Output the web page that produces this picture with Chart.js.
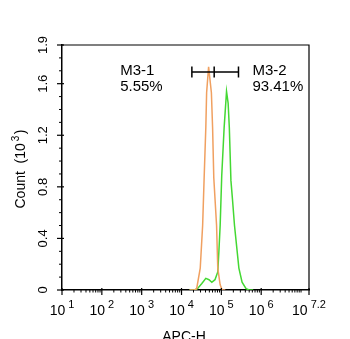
<!DOCTYPE html>
<html>
<head>
<meta charset="utf-8">
<script src="https://cdn.jsdelivr.net/npm/chart.js@4"></script>
<style>
  html, body { margin: 0; padding: 0; background: #fff; }
  #wrap { width: 350px; height: 339px; }
</style>
</head>
<body>
<div id="wrap"><canvas id="histChart"></canvas></div>
<script>
// x values are log10(APC-H), y values are counts in thousands
const isoLogX  = [4.20, 4.33, 4.38, 4.47, 4.53, 4.57, 4.61, 4.63, 4.68, 4.75, 4.78, 4.81, 4.88, 4.91, 4.97, 5.02, 5.10];
const isoCount = [0, 0, 0.01, 0.17, 0.50, 0.89, 1.26, 1.53, 1.73, 1.53, 1.26, 0.87, 0.50, 0.17, 0.04, 0, 0];

const sampleLogX  = [4.20, 4.33, 4.40, 4.51, 4.61, 4.69, 4.76, 4.84, 4.91, 4.94, 4.97, 5.01, 5.07, 5.13, 5.17, 5.20, 5.24, 5.28, 5.33, 5.44, 5.52, 5.62, 5.70, 5.80];
const sampleCount = [0, 0, 0.01, 0.05, 0.09, 0.08, 0.06, 0.08, 0.14, 0.31, 0.50, 0.89, 1.26, 1.54, 1.45, 1.26, 0.85, 0.70, 0.50, 0.17, 0.06, 0.01, 0, 0];

const xTickValues = [1, 2, 3, 4, 5, 6, 7.2];
const xTickExps   = ['1', '2', '3', '4', '5', '6', '7.2'];
const yTickValues = [0, 0.4, 0.8, 1.2, 1.6, 1.9];
const yTickLabels = ['0', '0.4', '0.8', '1.2', '1.6', '1.9'];

const gateEdges = [4.26, 4.82, 5.43];
const gateLevel = 1.69;
const gateNames = ['M3-1', 'M3-2'];
const gatePercents = ['5.55%', '93.41%'];
const gateTextX = [2.46, 5.78];

const FONT = 'Arial, "Liberation Sans", sans-serif';

function toPoints(xs, ys) {
  return xs.map((x, i) => ({ x: x, y: ys[i] }));
}

// ticks, labels, frame and gate markers
const decorations = {
  id: 'decorations',
  afterDraw(chart) {
    const ctx = chart.ctx;
    const xs = chart.scales.x, ys = chart.scales.y;
    const area = chart.chartArea;
    ctx.save();
    ctx.strokeStyle = '#000';
    ctx.fillStyle = '#000';

    // top and right frame
    ctx.lineWidth = 1.2;
    ctx.beginPath();
    ctx.moveTo(area.left, area.top);
    ctx.lineTo(area.right, area.top);
    ctx.lineTo(area.right, area.bottom);
    ctx.stroke();

    // x ticks (major and log minor)
    ctx.lineWidth = 1.2;
    const yb = area.bottom;
    xTickValues.forEach(v => {
      const px = xs.getPixelForValue(v);
      ctx.beginPath(); ctx.moveTo(px, yb - 2); ctx.lineTo(px, yb + 5); ctx.stroke();
    });
    ctx.lineWidth = 1;
    for (let d = 1; d < 7.2; d++) {
      for (let k = 2; k <= 10; k++) {
        const v = d + Math.log10(k);
        if (v > 7.15) break;
        if (k === 10 && d !== 6) continue;
        const px = xs.getPixelForValue(v);
        ctx.beginPath(); ctx.moveTo(px, yb); ctx.lineTo(px, yb + 2.5); ctx.stroke();
      }
    }

    // y ticks
    ctx.lineWidth = 1.2;
    const xl = area.left;
    yTickValues.forEach(v => {
      const py = ys.getPixelForValue(v);
      ctx.beginPath(); ctx.moveTo(xl - 5, py); ctx.lineTo(xl + 2, py); ctx.stroke();
    });
    ctx.lineWidth = 1;
    for (let i = 1; i < 19; i++) {
      const v = i / 10;
      if (yTickValues.some(t => Math.abs(t - v) < 1e-6)) continue;
      const py = ys.getPixelForValue(v);
      ctx.beginPath(); ctx.moveTo(xl - 3, py); ctx.lineTo(xl, py); ctx.stroke();
    }

    // x tick labels: 10 with superscript exponent, whole label centred on the tick
    ctx.textBaseline = 'alphabetic';
    ctx.textAlign = 'left';
    xTickValues.forEach((v, i) => {
      const px = xs.getPixelForValue(v);
      ctx.font = '14px ' + FONT;
      const wBase = ctx.measureText('10').width;
      ctx.font = '11px ' + FONT;
      const wExp = ctx.measureText(xTickExps[i]).width;
      const x0 = px - (wBase + 3 + wExp) / 2;
      ctx.font = '14px ' + FONT;
      ctx.fillText('10', x0, 315);
      ctx.font = '11px ' + FONT;
      ctx.fillText(xTickExps[i], x0 + wBase + 3, 308);
    });

    // x title
    ctx.font = '14px ' + FONT;
    ctx.textAlign = 'center';
    ctx.fillText('APC-H', 184, 341);

    // y tick labels, rotated
    yTickValues.forEach((v, i) => {
      const py = ys.getPixelForValue(v);
      ctx.save();
      ctx.translate(47, py);
      ctx.rotate(-Math.PI / 2);
      ctx.font = '13px ' + FONT;
      ctx.textAlign = 'center';
      ctx.fillText(yTickLabels[i], 0, 0);
      ctx.restore();
    });

    // y title
    ctx.save();
    ctx.translate(25, 169);
    ctx.rotate(-Math.PI / 2);
    ctx.font = '14px ' + FONT;
    ctx.textAlign = 'left';
    const part1 = 'Count  (10';
    const wTotal = ctx.measureText(part1).width + 9 + ctx.measureText(')').width;
    let tx = -wTotal / 2;
    ctx.fillText(part1, tx, 0);
    tx += ctx.measureText(part1).width + 2;
    ctx.font = '10px ' + FONT;
    ctx.fillText('3', tx, -6);
    tx += 7;
    ctx.font = '14px ' + FONT;
    ctx.fillText(')', tx, 0);
    ctx.restore();

    // gate markers
    ctx.lineWidth = 1.5;
    const gy = ys.getPixelForValue(gateLevel);
    const gx = gateEdges.map(v => xs.getPixelForValue(v));
    ctx.beginPath();
    ctx.moveTo(gx[0], gy); ctx.lineTo(gx[2], gy);
    gx.forEach(px => { ctx.moveTo(px, gy - 5.5); ctx.lineTo(px, gy + 5.5); });
    ctx.stroke();

    // gate labels
    ctx.font = '15px ' + FONT;
    ctx.textAlign = 'left';
    gateNames.forEach((name, i) => {
      const px = xs.getPixelForValue(gateTextX[i]);
      ctx.fillText(name, px, 75);
      ctx.fillText(gatePercents[i], px, 91);
    });
    ctx.restore();
  }
};

new Chart(document.getElementById('histChart'), {
  type: 'line',
  data: {
    datasets: [
      {
        label: 'M3-1',
        data: toPoints(isoLogX, isoCount),
        borderColor: '#f0a060',
        borderWidth: 1.5,
        pointRadius: 0,
        fill: false,
        tension: 0
      },
      {
        label: 'M3-2',
        data: toPoints(sampleLogX, sampleCount),
        borderColor: '#44d833',
        borderWidth: 1.5,
        pointRadius: 0,
        fill: false,
        tension: 0
      }
    ]
  },
  options: {
    responsive: true,
    maintainAspectRatio: false,
    animation: false,
    layout: { padding: { top: 45, right: 41, left: 0, bottom: 0 } },
    plugins: { legend: { display: false }, tooltip: { enabled: false } },
    scales: {
      x: {
        type: 'linear',
        min: 1,
        max: 7.2,
        grid: { display: false },
        ticks: { display: false },
        border: { display: true, color: '#000', width: 1.5 },
        afterFit: s => { s.height = 49; }
      },
      y: {
        type: 'linear',
        min: 0,
        max: 1.9,
        grid: { display: false },
        ticks: { display: false },
        border: { display: true, color: '#000', width: 1.5 },
        afterFit: s => { s.width = 62; }
      }
    }
  },
  plugins: [decorations]
});
</script>
</body>
</html>
